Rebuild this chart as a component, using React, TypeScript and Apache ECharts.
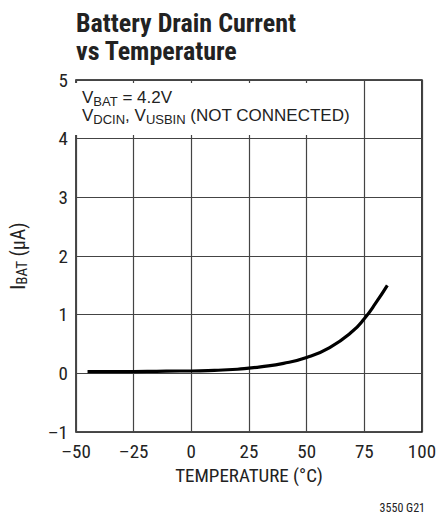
import React, { useEffect, useRef } from "react";
import * as echarts from "echarts";

const temperatures = [-45, -35, -25, -15, -5, 0, 10, 20, 25, 30, 40, 50, 60, 70, 75, 80, 85];
const drainCurrent = [0.03, 0.03, 0.03, 0.035, 0.04, 0.04, 0.05, 0.07, 0.09, 0.11, 0.17, 0.27, 0.44, 0.72, 0.93, 1.2, 1.5];
const xTicks = [-50, -25, 0, 25, 50, 75, 100];
const yTicks = [-1, 0, 1, 2, 3, 4, 5];

const FONT = "'Liberation Sans Narrow', 'Arial Narrow', 'Roboto Condensed', 'Liberation Sans', sans-serif";
const WIDE = "'Liberation Sans', Arial, sans-serif";

export default function App() {
  const ref = useRef<HTMLDivElement>(null);
  useEffect(() => {
    if (!ref.current) return;
    const chart = echarts.init(ref.current, null, { renderer: "svg" });
    const fmt = (v: number) => String(v).replace("-", "\u2013");
    const annRich = {
      m: { fontFamily: WIDE, fontSize: 17, fill: "#222", verticalAlign: "top" },
      s: { fontFamily: WIDE, fontSize: 13, fill: "#222", verticalAlign: "top", padding: [6, 0, 0, 0] },
    };
    chart.setOption({
      animation: false,
      backgroundColor: "#fff",
      grid: {
        left: 74,
        top: 80,
        width: 352,
        height: 352,
        show: true,
        borderColor: "#111",
        borderWidth: 1.5,
        backgroundColor: "transparent",
      },
      xAxis: {
        type: "value",
        min: xTicks[0],
        max: xTicks[xTicks.length - 1],
        interval: 25,
        name: "TEMPERATURE (\u00b0C)",
        nameLocation: "middle",
        nameGap: 34,
        nameTextStyle: { fontFamily: FONT, fontSize: 19, color: "#222" },
        axisLine: { show: false },
        axisTick: { show: false },
        axisLabel: { formatter: fmt, fontFamily: FONT, fontSize: 19, color: "#222", margin: 10 },
        splitLine: { show: true, lineStyle: { color: "#444", width: 1.2 } },
      },
      yAxis: {
        type: "value",
        min: yTicks[0],
        max: yTicks[yTicks.length - 1],
        interval: 1,
        name: "{m|I}{s|BAT}{m| (\u00b5A)}",
        nameLocation: "middle",
        nameGap: 47,
        nameTextStyle: {
          fontFamily: FONT,
          color: "#222",
          rich: {
            m: { fontFamily: FONT, fontSize: 20, color: "#222" },
            s: { fontFamily: FONT, fontSize: 15, color: "#222", verticalAlign: "bottom", padding: [7, 0, 0, 0] },
          },
        },
        axisLine: { show: false },
        axisTick: { show: false },
        axisLabel: { formatter: fmt, fontFamily: FONT, fontSize: 19, color: "#222", margin: 8 },
        splitLine: { show: true, lineStyle: { color: "#444", width: 1.2 } },
      },
      series: [
        {
          type: "line",
          data: temperatures.map((t, i) => [t, drainCurrent[i]]),
          smooth: true,
          showSymbol: false,
          lineStyle: { color: "#000", width: 3.2 },
          z: 3,
        },
      ],
      graphic: [
        {
          type: "text",
          left: 76,
          top: 9,
          style: { text: "Battery Drain Current", fontFamily: FONT, fontWeight: "bold", fontSize: 26, lineHeight: 27, fill: "#222" },
        },
        {
          type: "text",
          left: 76,
          top: 37,
          style: { text: "vs Temperature", fontFamily: FONT, fontWeight: "bold", fontSize: 26, lineHeight: 27, fill: "#222" },
        },
        {
          type: "rect",
          shape: { x: 75, y: 83, width: 287, height: 52 },
          style: { fill: "#fff" },
          z: 10,
        },
        {
          type: "text",
          left: 82,
          top: 89,
          z: 11,
          style: { text: "{m|V}{s|BAT}{m| = 4.2V}", rich: annRich },
        },
        {
          type: "text",
          left: 82,
          top: 107,
          z: 11,
          style: { text: "{m|V}{s|DCIN}{m|, V}{s|USBIN}{m| (NOT CONNECTED)}", rich: annRich },
        },
        {
          type: "text",
          right: 14,
          top: 502,
          style: { text: "3550 G21", fontFamily: FONT, fontSize: 12, fill: "#222" },
        },
      ],
    });
    return () => chart.dispose();
  }, []);
  return <div ref={ref} style={{ width: 439, height: 517, position: "absolute", left: 0, top: 0 }} />;
}
